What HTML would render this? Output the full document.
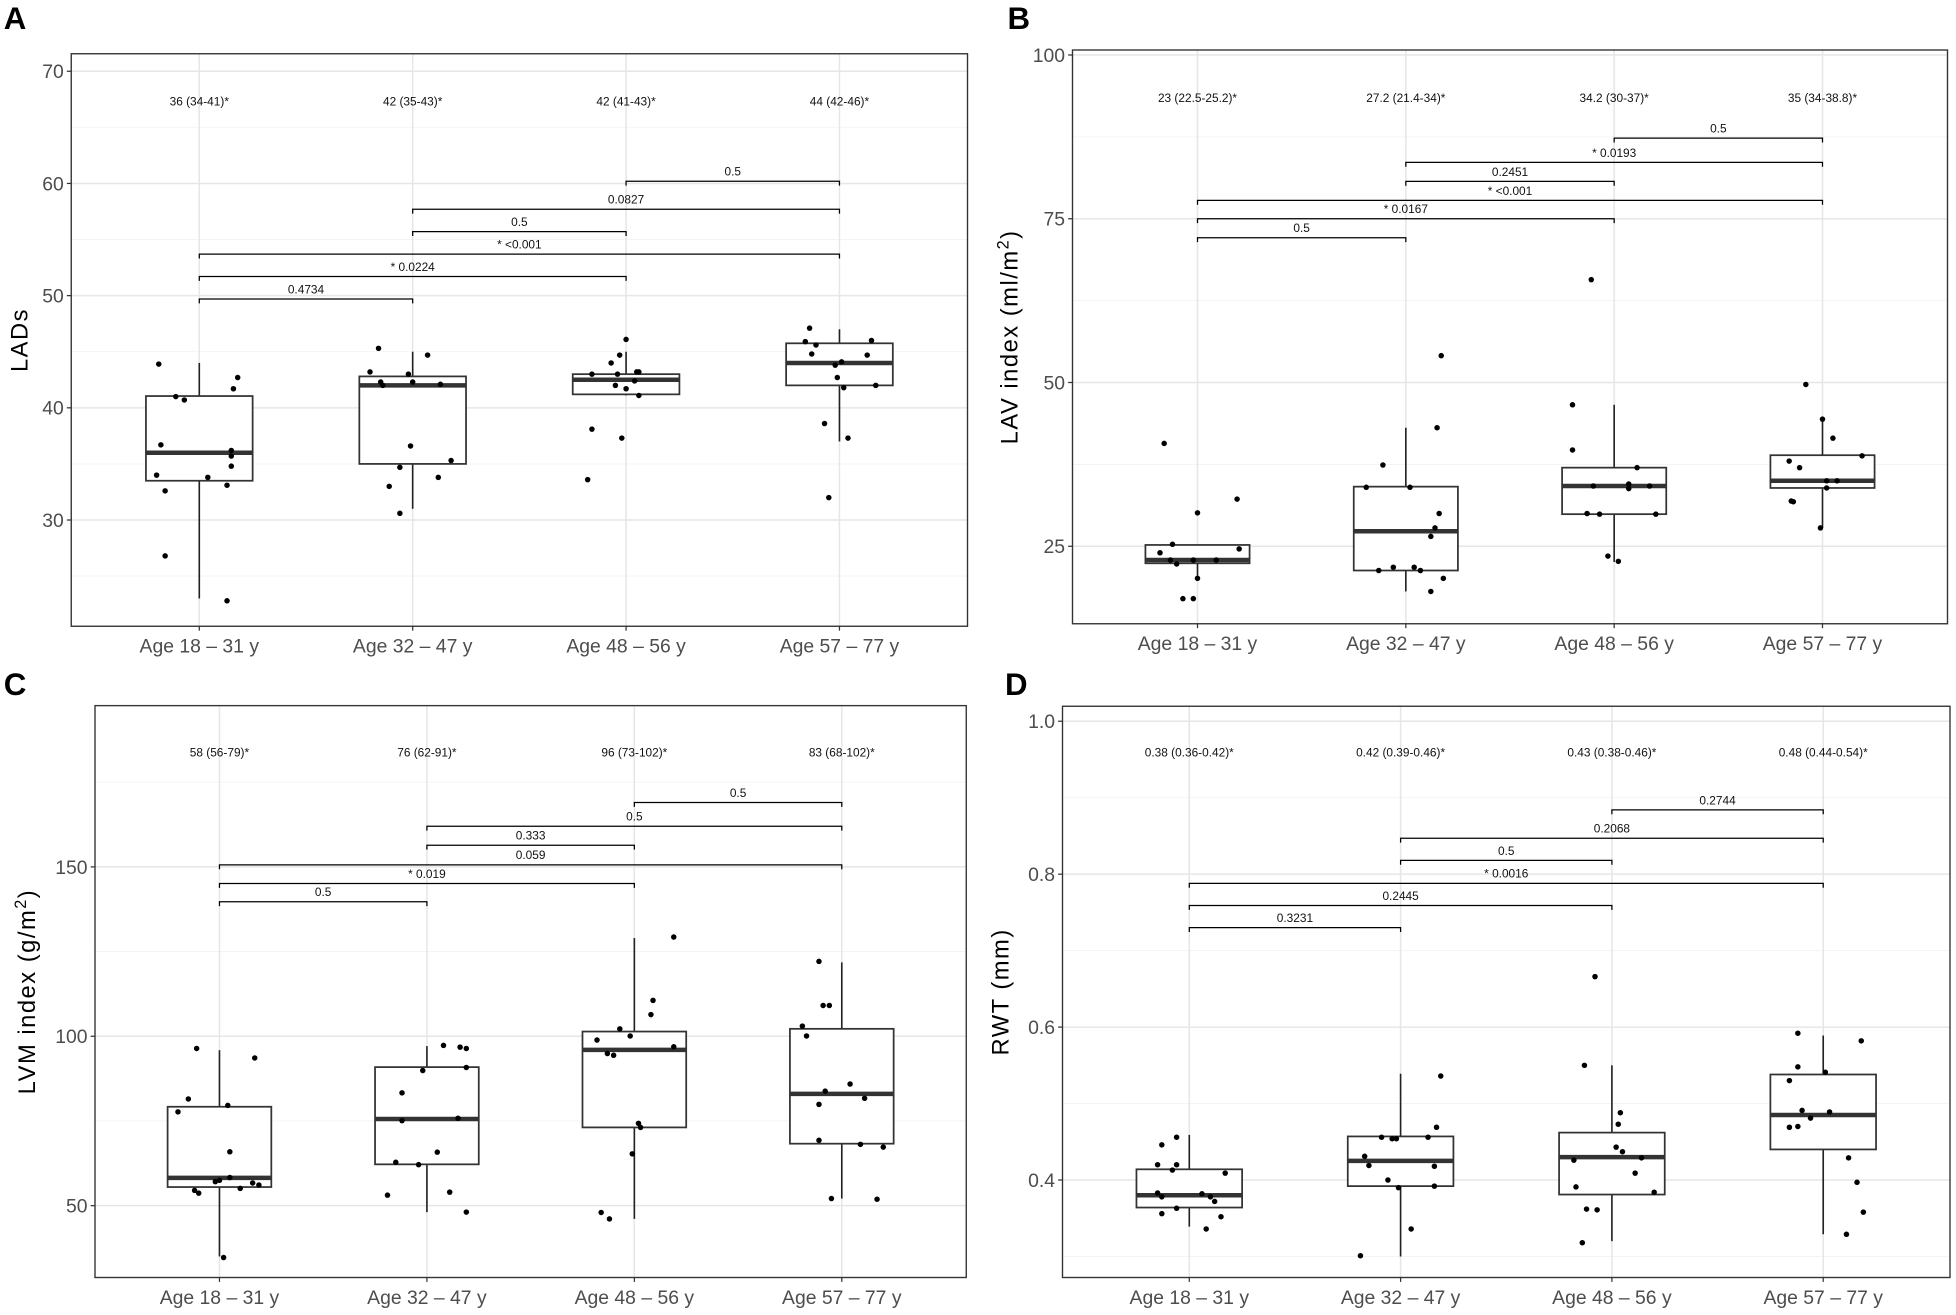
<!DOCTYPE html>
<html><head><meta charset="utf-8"><style>
html,body{margin:0;padding:0;background:#fff;}
svg{display:block;font-family:"Liberation Sans",Arial,sans-serif;}
</style></head><body>
<svg id="fig" width="1956" height="1315" viewBox="0 0 1564.8 1052" xmlns="http://www.w3.org/2000/svg"></svg>
<script>
const cats = ["Age 18 – 31 y","Age 32 – 47 y","Age 48 – 56 y","Age 57 – 77 y"];
const brkFrom = [0,0,0,1,1,2];
const brkTo   = [1,2,3,2,3,3];

// Panel A
const aTicks=[30,40,50,60,70], aMinor=[25,35,45,55,65];
const aLo=[23.0,31.0,41.1,37.0], aQ1=[33.5,35.0,41.2,42.0], aMed=[36.0,42.0,42.5,44.0], aQ3=[41.05,42.8,43.0,45.75], aHi=[44.0,45.0,45.0,47.0];
const aPts=[[43.9,41.0,40.7,36.7,36.2,35.7,34.0,34.8,33.8,32.6,33.1,26.8,22.8,42.7,41.7],
[45.3,43.2,43.0,42.3,42.0,42.3,42.1,44.7,36.6,34.7,35.3,33.8,33.0,30.6],
[46.1,44.7,44.0,43.0,43.0,43.2,43.2,42.4,42.0,41.7,41.1,38.1,37.3,33.6],
[47.1,45.9,45.6,44.8,46.0,44.7,44.1,43.8,42.7,41.8,42.0,38.6,37.3,32.0]];
const aJit=[[-0.19,-0.11,-0.07,-0.18,0.15,0.15,-0.20,0.15,0.04,-0.16,0.13,-0.16,0.13,0.18,0.16],
[-0.16,-0.20,-0.02,-0.15,-0.14,0,0.13,0.07,-0.01,-0.06,0.18,0.12,-0.11,-0.06],
[0,-0.03,-0.07,-0.16,-0.04,0.05,0.06,0.04,-0.05,0,0.06,-0.16,-0.02,-0.18],
[-0.14,-0.16,-0.11,-0.13,0.15,0.13,0.01,-0.02,-0.01,0.02,0.17,-0.07,0.04,-0.05]];
const aBrkY=[49.7,51.7,53.7,55.7,57.7,60.2], aBrkTxt=["0.4734","* 0.0224","* <0.001","0.5","0.0827","0.5"];
const aMedTxt=["36 (34-41)*","42 (35-43)*","42 (41-43)*","44 (42-46)*"];

// Panel B
const bTicks=[25,50,75,100], bMinor=[37.5,62.5,87.5];
const bLo=[19.7,18.1,22.6,27.8], bQ1=[22.4,21.3,29.9,33.9], bMed=[22.9,27.3,34.2,35.0], bQ3=[25.2,34.1,37.0,38.9], bHi=[25.2,43.1,46.6,44.4];
const bPts=[[40.7,32.2,30.1,25.3,24.6,24.0,22.9,22.3,22.9,22.9,20.1,17.0,17.0],
[54.1,43.1,37.4,34.0,34.0,30.0,27.8,26.5,21.3,21.8,21.8,21.3,20.1,18.1],
[65.7,46.6,39.7,37.0,34.2,34.5,33.8,34.2,30.0,29.9,29.9,23.5,22.7],
[49.7,44.4,41.5,38.8,38.0,37.0,35.0,35.0,33.9,31.9,31.8,27.8]];
const bJit=[[-0.16,0.19,0,-0.12,0.20,-0.18,-0.13,-0.10,-0.02,0.09,0,-0.07,-0.02],
[0.17,0.15,-0.11,-0.19,0.02,0.16,0.14,0.12,-0.13,-0.06,0.04,0.07,0.18,0.12],
[-0.11,-0.20,-0.20,0.11,-0.10,0.07,0.07,0.17,-0.13,-0.07,0.20,-0.03,0.02],
[-0.08,0,0.05,0.19,-0.16,-0.11,0.02,0.07,0.02,-0.15,-0.14,-0.01]];
const bBrkY=[72.1,75.0,77.8,80.7,83.6,87.3], bBrkTxt=["0.5","* 0.0167","* <0.001","0.2451","* 0.0193","0.5"];
const bMedTxt=["23 (22.5-25.2)*","27.2 (21.4-34)*","34.2 (30-37)*","35 (34-38.8)*"];

// Panel C
const cTicks=[50,100,150], cMinor=[75,125,175];
const cLo=[35.0,48.1,46.1,52.1], cQ1=[55.5,62.2,73.1,68.3], cMed=[58.2,75.6,96.0,83.0], cQ3=[79.2,90.9,101.4,102.2], cHi=[95.9,97.1,129.0,121.8];
const cPts=[[96.4,93.6,81.5,77.7,79.6,65.9,58.3,57.1,57.5,56.7,56.1,55.1,54.5,53.7,34.7],
[97.3,96.8,96.4,90.8,89.9,83.3,75.8,75.1,65.8,62.8,62.1,54.0,53.1,48.1],
[129.3,110.6,106.4,102.2,100.1,98.9,96.9,94.9,94.4,74.3,73.1,65.3,48.0,46.1],
[122.1,109.1,109.1,103.0,100.1,85.9,83.8,81.7,79.9,69.3,68.1,67.3,52.1,51.9]];
const cJit=[[-0.11,0.17,-0.15,-0.20,0.04,0.05,0.05,-0.02,0,0.16,0.19,0.10,-0.12,-0.10,0.02],
[0.08,0.16,0.19,0.19,-0.02,-0.12,0.15,-0.12,0.05,-0.15,-0.04,0.11,-0.19,0.19],
[0.19,0.09,0.08,-0.07,-0.02,-0.18,0.19,-0.13,-0.10,0.02,0.03,-0.01,-0.16,-0.12],
[-0.11,-0.09,-0.06,-0.19,-0.17,0.04,-0.08,0.11,-0.11,-0.11,0.09,0.20,-0.05,0.17]];
const cBrkY=[139.7,145.1,150.6,156.4,162.0,169.0], cBrkTxt=["0.5","* 0.019","0.059","0.333","0.5","0.5"];
const cMedTxt=["58 (56-79)*","76 (62-91)*","96 (73-102)*","83 (68-102)*"];

// Panel D
const dTicks=[0.4,0.6,0.8,1.0], dMinor=[0.3,0.5,0.7,0.9];
const dLo=[0.339,0.300,0.320,0.329], dQ1=[0.364,0.392,0.381,0.440], dMed=[0.380,0.425,0.430,0.485], dQ3=[0.414,0.457,0.462,0.538], dHi=[0.459,0.539,0.550,0.589];
const dPts=[[0.456,0.446,0.420,0.420,0.413,0.409,0.383,0.378,0.382,0.378,0.372,0.363,0.356,0.352,0.336],
[0.536,0.469,0.456,0.456,0.454,0.454,0.431,0.419,0.418,0.400,0.390,0.392,0.336,0.301],
[0.666,0.550,0.488,0.473,0.443,0.437,0.429,0.426,0.409,0.391,0.384,0.362,0.361,0.318],
[0.592,0.582,0.548,0.541,0.530,0.491,0.489,0.481,0.469,0.470,0.429,0.397,0.358,0.329]];
const dJit=[[-0.06,-0.13,-0.15,-0.06,-0.08,0.17,-0.15,-0.13,0.06,0.10,0.12,-0.06,-0.13,0.15,0.08],
[0.19,0.17,0.13,-0.09,-0.04,-0.02,-0.17,-0.15,0.16,-0.06,-0.01,0.16,0.05,-0.19],
[-0.08,-0.13,0.04,0.03,0.02,0.05,0.14,-0.18,0.11,-0.17,0.20,-0.12,-0.07,-0.14],
[-0.12,0.18,-0.12,0.01,-0.16,-0.10,0.03,-0.06,-0.16,-0.12,0.12,0.16,0.19,0.11]];
const dBrkY=[0.730,0.759,0.788,0.818,0.847,0.884], dBrkTxt=["0.3231","0.2445","* 0.0016","0.5","0.2068","0.2744"];
const dMedTxt=["0.38 (0.36-0.42)*","0.42 (0.39-0.46)*","0.43 (0.38-0.46)*","0.48 (0.44-0.54)*"];

const NS="http://www.w3.org/2000/svg";
const svg=document.getElementById('fig');
function mk(tag,attrs,parent,text){const e=document.createElementNS(NS,tag);for(const k in attrs)e.setAttribute(k,attrs[k]);if(text!==undefined)e.textContent=text;(parent||svg).appendChild(e);return e;}

function panel(cfg){
  const g=mk('g',{});
  
  
  const L=cfg.left,R=cfg.right,T=cfg.top,B=cfg.bottom;
  const y=v=>B-(v-cfg.ymin)/(cfg.ymax-cfg.ymin)*(B-T);
  const step=(R-L)/4.2;
  const x=i=>L+(0.6+i)*step;
  const lt=mk('text',{x:cfg.letterX,y:cfg.letterY,'font-size':25,'font-weight':'bold',fill:'#000'},g,cfg.id.toUpperCase());
  
  
  cfg.minor.forEach(v=>{const yy=y(v);if(yy>T&&yy<B){const l=mk('line',{x1:L,x2:R,y1:yy,y2:yy,stroke:'#f3f3f3','stroke-width':0.7},g);}});
  cfg.ticks.forEach(v=>{const l=mk('line',{x1:L,x2:R,y1:y(v),y2:y(v),stroke:'#e6e6e6','stroke-width':1.2},g);});
  cats.forEach((c,i)=>{const l=mk('line',{x1:x(i),x2:x(i),y1:T,y2:B,stroke:'#e6e6e6','stroke-width':1.2},g);});
  cats.forEach((c,i)=>{
    const bg=mk('g',{},g);
    
    
    const cx=x(i),hw=step*0.25;
    mk('line',{x1:cx,x2:cx,y1:y(cfg.lo[i]),y2:y(cfg.q1[i]),stroke:'#222','stroke-width':1.3},bg);
    mk('line',{x1:cx,x2:cx,y1:y(cfg.q3[i]),y2:y(cfg.hi[i]),stroke:'#222','stroke-width':1.3},bg);
    mk('rect',{x:cx-hw,y:y(cfg.q3[i]),width:2*hw,height:Math.max(0.5,y(cfg.q1[i])-y(cfg.q3[i])),fill:'#fff',stroke:'#333','stroke-width':1.4},bg);
    mk('line',{x1:cx-hw,x2:cx+hw,y1:y(cfg.med[i]),y2:y(cfg.med[i]),stroke:'#333','stroke-width':3.6},bg);
    cfg.pts[i].forEach((v,j)=>{
      const p=mk('circle',{cx:cx+cfg.jit[i][j]*step,cy:y(v),r:2.2,fill:'#000'},bg);
      
      
    });
    const t=mk('text',{x:cx,y:y(cfg.medTxtY)+3,'font-size':9.5,'text-anchor':'middle',fill:'#111'},g,cfg.medTxt[i]);
    
    
  });
  brkFrom.forEach((f,k)=>{
    const bg=mk('g',{},g);
    
    
    const yy=y(cfg.brkY[k]),x1=x(f),x2=x(brkTo[k]);
    mk('path',{d:`M${x1},${yy+3.5}V${yy}H${x2}V${yy+3.5}`,fill:'none',stroke:'#000','stroke-width':1},bg);
    mk('text',{x:(x1+x2)/2,y:yy-4.5,'font-size':9.5,'text-anchor':'middle',fill:'#111'},bg,cfg.brkTxt[k]);
  });
  const fr=mk('rect',{x:L,y:T,width:R-L,height:B-T,fill:'none',stroke:'#333','stroke-width':1.1},g);
  
  
  cfg.ticks.forEach(v=>{
    mk('line',{x1:L-3.5,x2:L,y1:y(v),y2:y(v),stroke:'#333','stroke-width':1},g);
    const t=mk('text',{x:L-6,y:y(v)+5.5,'font-size':15.5,'text-anchor':'end',fill:'#4d4d4d'},g,cfg.fmt(v));
    
    
  });
  cats.forEach((c,i)=>{
    mk('line',{x1:x(i),x2:x(i),y1:B,y2:B+3.5,stroke:'#333','stroke-width':1},g);
    const t=mk('text',{x:x(i),y:B+21,'font-size':15.5,'text-anchor':'middle',fill:'#4d4d4d'},g,c);
    
    
  });
  const yt=mk('text',{x:0,y:0,'font-size':19,'letter-spacing':1.2,'text-anchor':'middle',fill:'#000',transform:`translate(${cfg.titleX},${(T+B)/2}) rotate(-90)`},g);
  
  
  cfg.title.forEach(part=>{mk('tspan',part[1]?{'baseline-shift':'super','font-size':13}:{},yt,part[0]);});
}

panel({id:'a',left:57,right:774,top:43,bottom:501,ymin:20.53,ymax:71.56,letterX:3,letterY:23,titleX:22,
  ticks:aTicks,minor:aMinor,lo:aLo,q1:aQ1,med:aMed,q3:aQ3,hi:aHi,pts:aPts,jit:aJit,brkY:aBrkY,brkTxt:aBrkTxt,medTxt:aMedTxt,medTxtY:67.3,
  fmt:v=>String(v),title:[["LADs",false]]});
panel({id:'b',left:858,right:1558,top:40,bottom:499,ymin:13.17,ymax:100.76,letterX:806,letterY:23,titleX:814,
  ticks:bTicks,minor:bMinor,lo:bLo,q1:bQ1,med:bMed,q3:bQ3,hi:bHi,pts:bPts,jit:bJit,brkY:bBrkY,brkTxt:bBrkTxt,medTxt:bMedTxt,medTxtY:93.4,
  fmt:v=>String(v),title:[["LAV index (ml/m",false],["2",true],[")",false]]});
panel({id:'c',left:76,right:773,top:564.5,bottom:1022,ymin:28.8,ymax:197.6,letterX:3,letterY:556,titleX:28,
  ticks:cTicks,minor:cMinor,lo:cLo,q1:cQ1,med:cMed,q3:cQ3,hi:cHi,pts:cPts,jit:cJit,brkY:cBrkY,brkTxt:cBrkTxt,medTxt:cMedTxt,medTxtY:183.7,
  fmt:v=>String(v),title:[["LVM index (g/m",false],["2",true],[")",false]]});
panel({id:'d',left:850,right:1560,top:565,bottom:1022,ymin:0.2725,ymax:1.0196,letterX:804,letterY:556,titleX:807,
  ticks:dTicks,minor:dMinor,lo:dLo,q1:dQ1,med:dMed,q3:dQ3,hi:dHi,pts:dPts,jit:dJit,brkY:dBrkY,brkTxt:dBrkTxt,medTxt:dMedTxt,medTxtY:0.959,
  fmt:v=>v.toFixed(1),title:[["RWT (mm)",false]]});
</script>
</body></html>
